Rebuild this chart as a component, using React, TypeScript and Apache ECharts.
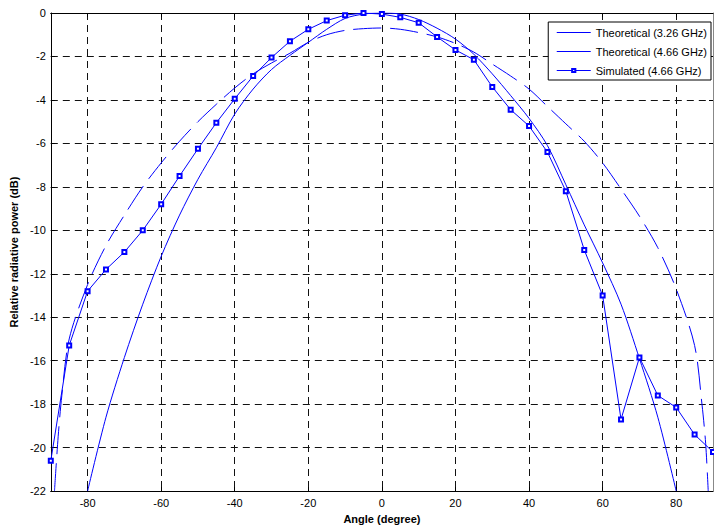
import React, { useEffect, useRef } from "react";
import * as echarts from "echarts";

const simAngles = [-90, -85, -80, -75, -70, -65, -60, -55, -50, -45, -40, -35, -30, -25, -20, -15, -10, -5, 0, 5, 10, 15, 20, 25, 30, 35, 40, 45, 50, 55, 60, 65, 70, 75, 80, 85, 90];
const simValues = [-20.6, -15.3, -12.8, -11.8, -11.0, -10.0, -8.8, -7.5, -6.25, -5.05, -3.95, -2.9, -2.05, -1.3, -0.75, -0.35, -0.1, 0, -0.05, -0.2, -0.45, -1.1, -1.7, -2.15, -3.4, -4.45, -5.2, -6.4, -8.2, -10.9, -13.0, -18.7, -15.85, -17.6, -18.15, -19.4, -20.2];

const theo466Angles = [-80, -75, -70, -65, -60, -55, -50, -45, -40, -35, -30, -25, -20, -15, -10, -5, 0, 5, 10, 15, 20, 25, 30, 35, 40, 45, 50, 55, 60, 65, 70, 75, 80];
const theo466Values = [-22, -18.6, -15.85, -13.4, -11.2, -9.3, -7.65, -6.2, -4.65, -3.5, -2.6, -1.95, -1.35, -0.75, -0.25, -0.05, 0, -0.05, -0.3, -0.7, -1.2, -1.9, -2.8, -3.8, -4.85, -6.1, -7.9, -9.75, -11.5, -13.4, -15.9, -18.6, -22];

const theo326Angles = [-89, -88, -87, -85, -80, -75, -70, -65, -60, -55, -50, -45, -40, -35, -30, -25, -20, -15, -10, -5, 0, 5, 10, 15, 20, 25, 30, 35, 40, 45, 50, 55, 60, 65, 70, 75, 80, 85, 87, 88, 88.7];
const theo326Values = [-22, -19.5, -17.6, -15.0, -12.5, -10.7, -9.3, -8.0, -6.9, -5.9, -5.0, -4.2, -3.45, -2.8, -2.3, -1.85, -1.35, -1.0, -0.8, -0.72, -0.69, -0.75, -0.9, -1.1, -1.4, -1.8, -2.35, -2.9, -3.5, -4.3, -5.1, -5.9, -6.9, -8.1, -9.35, -10.8, -12.7, -15.3, -18.0, -19.8, -22];

const xTicks = [-80, -60, -40, -20, 0, 20, 40, 60, 80];
const seriesNames = ["Theoretical (3.26 GHz)", "Theoretical (4.66 GHz)", "Simulated (4.66 GHz)"];

const zip = (a: number[], b: number[]) => a.map((v, i) => [v, b[i]]);

export default function App() {
  const ref = useRef<HTMLDivElement>(null);
  useEffect(() => {
    if (!ref.current) return;
    const chart = echarts.init(ref.current, null, { renderer: "svg" });
    const font = "Liberation Sans, Arial, sans-serif";
    const gridLine = { show: true, lineStyle: { color: "#111", type: [7, 5] as any, width: 1 } };
    const blue = "#0000ff";
    chart.setOption({
      animation: false,
      backgroundColor: "#fff",
      textStyle: { fontFamily: font },
      grid: { left: 48, right: 1, top: 13, bottom: 36, containLabel: false },
      legend: {
        orient: "vertical",
        right: 3,
        top: 22,
        backgroundColor: "#fff",
        borderColor: "#000",
        borderWidth: 1,
        borderRadius: 0,
        padding: [5, 4, 4, 8],
        itemWidth: 34,
        itemHeight: 4,
        itemGap: 8,
        textStyle: { fontSize: 11, color: "#000", fontFamily: font },
        data: [
          { name: seriesNames[0], lineStyle: { type: "solid", width: 1, color: blue }, itemStyle: { opacity: 0 } },
          { name: seriesNames[1], lineStyle: { type: "solid", width: 1, color: blue }, itemStyle: { opacity: 0 } },
          { name: seriesNames[2], lineStyle: { type: "solid", width: 1, color: blue } },
        ],
      },
      xAxis: [
        {
          type: "value",
          min: -90,
          max: 90,
          name: "Angle (degree)",
          nameLocation: "middle",
          nameGap: 20,
          nameTextStyle: { fontWeight: "bold", fontSize: 11, color: "#000", fontFamily: font },
          axisLine: { show: true, onZero: false, lineStyle: { color: "#000", width: 1 } },
          axisTick: { show: true, inside: true, length: 4, customValues: xTicks, lineStyle: { color: "#000" } },
          axisLabel: { customValues: xTicks, fontSize: 11, color: "#000", margin: 6, fontFamily: font },
          splitLine: gridLine,
        },
        {
          type: "value",
          min: -90,
          max: 90,
          position: "top",
          axisLine: { show: true, onZero: false, lineStyle: { color: "#000", width: 1 } },
          axisTick: { show: true, inside: true, length: 4, customValues: xTicks, lineStyle: { color: "#000" } },
          axisLabel: { show: false },
          splitLine: { show: false },
        },
      ],
      yAxis: [
        {
          type: "value",
          min: -22,
          max: 0,
          interval: 2,
          name: "Relative radiative power (dB)",
          nameLocation: "middle",
          nameGap: 28,
          nameTextStyle: { fontWeight: "bold", fontSize: 11, color: "#000", fontFamily: font },
          axisLine: { show: true, onZero: false, lineStyle: { color: "#000", width: 1 } },
          axisTick: { show: true, inside: true, length: 4, lineStyle: { color: "#000" } },
          axisLabel: { fontSize: 11, color: "#000", margin: 5, fontFamily: font },
          splitLine: gridLine,
        },
        {
          type: "value",
          min: -22,
          max: 0,
          interval: 2,
          position: "right",
          axisLine: { show: true, onZero: false, lineStyle: { color: "#888", width: 1 } },
          axisTick: { show: true, inside: true, length: 4, lineStyle: { color: "#000" } },
          axisLabel: { show: false },
          splitLine: { show: false },
        },
      ],
      series: [
        {
          name: seriesNames[0],
          type: "line",
          data: zip(theo326Angles, theo326Values),
          showSymbol: false,
          symbol: "none",
          smooth: 0.3,
          lineStyle: { color: blue, width: 1, type: [28, 9] as any },
          itemStyle: { color: blue },
        },
        {
          name: seriesNames[1],
          type: "line",
          data: zip(theo466Angles, theo466Values),
          symbol: "none",
          smooth: 0.3,
          lineStyle: { color: blue, width: 1 },
          itemStyle: { color: blue },
        },
        {
          name: seriesNames[2],
          type: "line",
          data: zip(simAngles, simValues),
          symbol: "emptyRect",
          symbolSize: 4,
          lineStyle: { color: blue, width: 1 },
          itemStyle: { color: blue, borderColor: blue, borderWidth: 1 },
        },
      ],
    });
    return () => chart.dispose();
  }, []);
  return <div ref={ref} style={{ width: 714, height: 529, position: "absolute", left: 0, top: 0 }} />;
}
